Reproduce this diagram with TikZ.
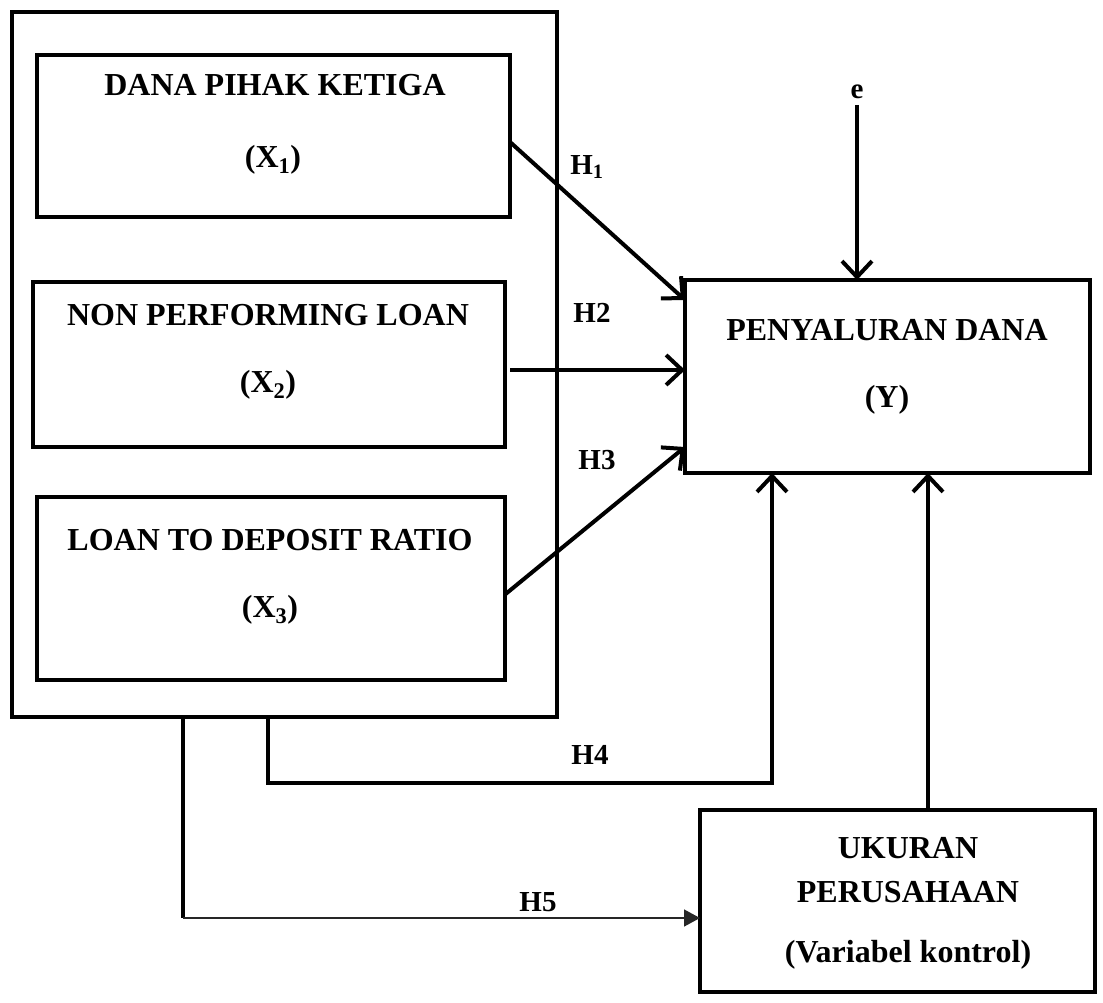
\documentclass[tikz,border=0pt]{standalone}
\usepackage{fontspec}
\setmainfont{Liberation Serif}
\usetikzlibrary{arrows.meta,calc}
\tikzset{
  x=1pt,y=-1pt,
  boxnode/.style={draw,line width=4pt,rectangle,inner sep=0pt,outer sep=0pt},
  txt/.style={font=\fontsize{32}{37}\selectfont\bfseries,inner sep=0pt},
  hlab/.style={font=\fontsize{29}{34}\selectfont\bfseries,inner sep=0pt},
  conn/.style={line width=4pt,-{Straight Barb[length=16pt,width=30pt,line width=4pt]}},
  plain/.style={line width=4pt},
}
\begin{document}
\begin{tikzpicture}
\useasboundingbox (0,0) rectangle (1103,1003);
% boxes
\node[boxnode,minimum width=545pt,minimum height=705pt] (outer) at (284.5,364.5) {};
\node[boxnode,minimum width=473pt,minimum height=162pt] (b1) at (273.5,136) {};
\node[boxnode,minimum width=472pt,minimum height=165pt] (b2) at (269,364.5) {};
\node[boxnode,minimum width=468pt,minimum height=183pt] (b3) at (271,588.5) {};
\node[boxnode,minimum width=405pt,minimum height=193pt] (Y) at (887.5,376.5) {};
\node[boxnode,minimum width=395pt,minimum height=182pt] (uk) at (897.5,901) {};
% texts
\node[txt] (t1a) at (275,85) {DANA PIHAK KETIGA};
\node[txt] (t1b) at (273,160) {(X\textsubscript{1})};
\node[txt] (t2a) at (268,315) {NON PERFORMING LOAN};
\node[txt] (t2b) at (268,385) {(X\textsubscript{2})};
\node[txt] (t3a) at (270,540) {LOAN TO DEPOSIT RATIO};
\node[txt] (t3b) at (270,610) {(X\textsubscript{3})};
\node[txt] (tya) at (887,330) {PENYALURAN DANA};
\node[txt] (tyb) at (887,400) {(Y)};
\node[txt] (tua) at (908,848) {UKURAN};
\node[txt] (tub) at (908,892) {PERUSAHAAN};
\node[txt] (tuc) at (908,955) {(Variabel kontrol)};
% labels
\node[hlab] (h1) at (587,167) {H\textsubscript{1}};
\node[hlab] (h2) at (592,313) {H2};
\node[hlab] (h3) at (597,460) {H3};
\node[hlab] (h4) at (590,755) {H4};
\node[hlab] (h5) at (538,902) {H5};
\node[hlab] (e) at (857,92) {e};
% coordinates
\coordinate (es) at (857,105);
\coordinate (h4s) at (268,717);
\coordinate (h4c) at (268,783);
\coordinate (h4e) at (772,473);
\coordinate (h5s) at (183,717);
\coordinate (h5c) at (183,918);
\coordinate (uy) at (928,810);
% connectors
\draw[conn] ([yshift=-6pt]b1.east) -- ([yshift=-20pt]Y.north west);
\draw[conn] ([xshift=5pt,yshift=-5.5pt]b2.east) -- ([yshift=-5.5pt]b2.east -| Y.west);
\draw[conn] ([yshift=-6pt]b3.east) -- ([yshift=26pt]Y.south west);
\draw[conn] (es) -- (es |- Y.north);
\draw[conn] (h4s) -- (h4c) -| (h4e);
\draw[conn] (uy) -- (uy |- Y.south);
\draw[plain] (h5s) -- (h5c);
\draw[line width=1.6pt,color=black!85,-{Triangle[length=16pt,width=17pt]}] (h5c) -- (h5c -| uk.west);
\end{tikzpicture}
\end{document}
